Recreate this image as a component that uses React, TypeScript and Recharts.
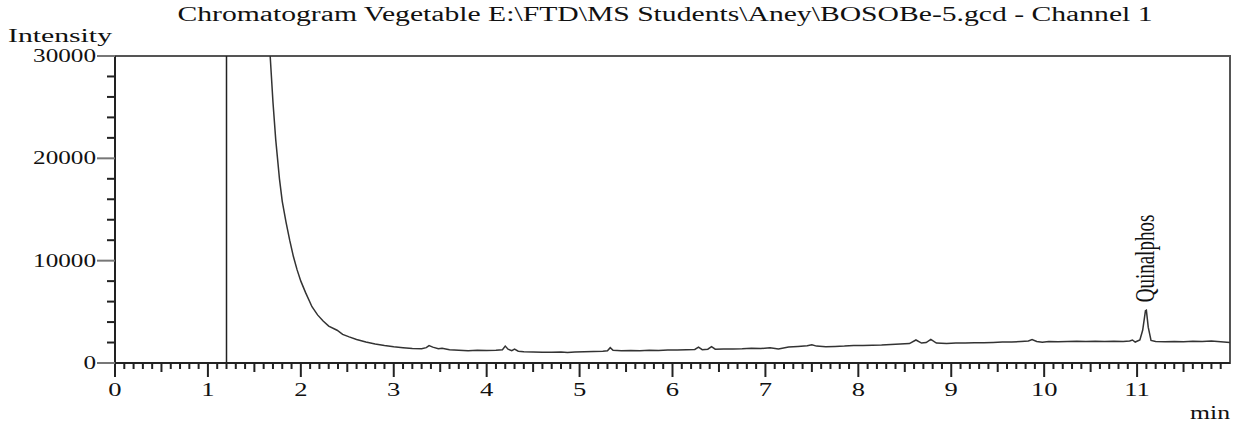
import {
  LineChart,
  Line,
  XAxis,
  YAxis,
  ReferenceLine,
  ReferenceArea,
  ReferenceDot,
} from 'recharts';

// retention time (min) and detector intensity
const TIMES = [
  1.6, 1.67, 1.7, 1.73, 1.77, 1.8, 1.84, 1.88, 1.92, 1.96, 2.0, 2.05, 2.12, 2.18,
  2.24, 2.3, 2.39, 2.45, 2.52, 2.6, 2.7, 2.8, 2.9, 3.0, 3.1, 3.2, 3.3, 3.35, 3.38,
  3.42, 3.48, 3.52, 3.6, 3.7, 3.8, 3.9, 4.0, 4.1, 4.17, 4.2, 4.23, 4.27, 4.3, 4.34,
  4.4, 4.5, 4.6, 4.7, 4.8, 4.87, 4.95, 5.05, 5.15, 5.25, 5.3, 5.33, 5.36, 5.45,
  5.55, 5.65, 5.75, 5.85, 5.95, 6.05, 6.15, 6.24, 6.28, 6.32, 6.38, 6.42, 6.46,
  6.55, 6.65, 6.75, 6.85, 6.95, 7.05, 7.14, 7.25, 7.35, 7.45, 7.5, 7.55, 7.65,
  7.75, 7.85, 7.95, 8.05, 8.15, 8.25, 8.35, 8.45, 8.55, 8.62, 8.68, 8.73, 8.78,
  8.84, 8.95, 9.05, 9.15, 9.25, 9.35, 9.45, 9.55, 9.65, 9.75, 9.83, 9.87, 9.92,
  9.98, 10.05, 10.15, 10.25, 10.35, 10.45, 10.55, 10.65, 10.75, 10.85, 10.92,
  10.95, 10.98, 11.03, 11.06, 11.09, 11.1, 11.12, 11.15, 11.2, 11.3, 11.4, 11.5,
  11.6, 11.7, 11.8, 11.9, 12.0,
];

const INTENSITY = [
  40000, 30000, 25500, 21800, 18000, 15800, 13800, 12000, 10400, 9100, 8000, 6900,
  5500, 4700, 4100, 3600, 3200, 2800, 2550, 2300, 2050, 1850, 1700, 1580, 1500,
  1420, 1400, 1500, 1700, 1550, 1400, 1450, 1300, 1250, 1200, 1250, 1220, 1250,
  1300, 1650, 1350, 1200, 1350, 1150, 1100, 1080, 1050, 1060, 1080, 1020, 1080,
  1100, 1120, 1150, 1200, 1500, 1250, 1200, 1230, 1200, 1250, 1230, 1270, 1280,
  1300, 1320, 1550, 1300, 1350, 1600, 1350, 1370, 1380, 1400, 1450, 1420, 1480,
  1380, 1560, 1620, 1680, 1780, 1650, 1600, 1620, 1650, 1720, 1700, 1730, 1750,
  1800, 1850, 1900, 2250, 1950, 2000, 2300, 1950, 1900, 1950, 1950, 1980, 1970,
  2000, 2050, 2050, 2100, 2150, 2300, 2100, 2020, 2100, 2080, 2100, 2120, 2100,
  2130, 2100, 2120, 2100, 2150, 2250, 2050, 2250, 3200, 5100, 5150, 3500, 2200,
  2100, 2080, 2100, 2080, 2120, 2100, 2150, 2080, 2000,
];

const Y_TICKS = [
  0, 2000, 4000, 6000, 8000, 10000, 12000, 14000, 16000, 18000, 20000, 22000,
  24000, 26000, 28000, 30000,
];
const Y_LABELS = [0, 10000, 20000, 30000];
const X_LABELS = [0, 1, 2, 3, 4, 5, 6, 7, 8, 9, 10, 11];

const SOLVENT_MARK = 1.2;
const PEAK = { name: 'Quinalphos', time: 11.1, value: 5150 };

const data = TIMES.map((t, i) => ({ t, v: INTENSITY[i] }));

// minor ticks every 0.1 min
const xTicks: number[] = [];
for (let i = 0; i < 120; i++) xTicks.push(i / 10);

const FONT = '"Liberation Serif", "DejaVu Serif", serif';
const INK = '#222';

const XTick = (props: any) => {
  const { x, y, payload } = props;
  const v = payload.value;
  const whole = Math.abs(v - Math.round(v)) < 1e-6;
  const half = Math.abs(v * 2 - Math.round(v * 2)) < 1e-6;
  const len = whole ? 14 : half ? 9 : 6;
  return (
    <g>
      <line x1={x} x2={x} y1={y} y2={y + len} stroke={INK} strokeWidth={2} />
      {whole && X_LABELS.includes(Math.round(v)) && (
        <text
          transform={`translate(${x},${y + 33}) scale(1.4,1)`}
          textAnchor="middle"
          fontFamily={FONT}
          fontSize={19}
          fill="#111"
        >
          {Math.round(v)}
        </text>
      )}
    </g>
  );
};

const YTick = (props: any) => {
  const { x, y, payload } = props;
  const labelled = Y_LABELS.includes(payload.value);
  return (
    <g>
      <line
        x1={x - (labelled ? 18 : 8)}
        x2={x}
        y1={y}
        y2={y}
        stroke={labelled ? '#777' : INK}
        strokeWidth={2}
      />
      {labelled && (
        <text
          transform={`translate(${x - 19},${y + 6}) scale(1.4,1)`}
          textAnchor="end"
          fontFamily={FONT}
          fontSize={18}
          fill="#111"
        >
          {payload.value}
        </text>
      )}
    </g>
  );
};

const PeakLabel = (props: any) => {
  const { viewBox } = props;
  const cx = viewBox.x + viewBox.width / 2;
  const cy = viewBox.y + viewBox.height / 2;
  return (
    <text
      transform={`translate(${cx + 8},${cy - 8}) scale(1.4,1) rotate(-90)`}
      textAnchor="start"
      fontFamily={FONT}
      fontSize={19}
      fill="#111"
    >
      {PEAK.name}
    </text>
  );
};

export default function App() {
  return (
    <div style={{ position: 'absolute', left: 0, top: 0, width: 1236, height: 423, background: '#fff' }}>
      <LineChart
        width={1236}
        height={423}
        data={data}
        margin={{ top: 56, right: 6, left: 0, bottom: 0 }}
      >
        <ReferenceArea
          x1={0}
          x2={12}
          y1={0}
          y2={30000}
          fill="none"
          stroke="#555"
          strokeWidth={2}
        />
        <XAxis
          type="number"
          dataKey="t"
          domain={[0, 12]}
          ticks={xTicks}
          interval={0}
          height={60}
          tickSize={0}
          tickMargin={0}
          tickLine={false}
          tick={<XTick />}
          axisLine={{ stroke: INK, strokeWidth: 2 }}
          allowDataOverflow
        />
        <YAxis
          type="number"
          domain={[0, 30000]}
          ticks={Y_TICKS}
          interval={0}
          width={115}
          tickSize={0}
          tickMargin={0}
          tickLine={false}
          tick={<YTick />}
          axisLine={{ stroke: INK, strokeWidth: 2 }}
          allowDataOverflow
        />
        <ReferenceLine x={SOLVENT_MARK} stroke={INK} strokeWidth={1.5} />
        <Line
          type="linear"
          dataKey="v"
          stroke="#333"
          strokeWidth={1.5}
          dot={false}
          isAnimationActive={false}
        />
        <ReferenceDot
          x={PEAK.time}
          y={PEAK.value}
          r={0}
          fill="none"
          stroke="none"
          label={<PeakLabel />}
        />
      </LineChart>
      <svg
        width={1236}
        height={423}
        style={{ position: 'absolute', left: 0, top: 0, pointerEvents: 'none' }}
      >
        <text
          x={665}
          y={21}
          textAnchor="middle"
          fontFamily={FONT}
          fontSize={20}
          textLength={975}
          lengthAdjust="spacingAndGlyphs"
          fill="#111"
        >
          {'Chromatogram Vegetable E:\\FTD\\MS Students\\Aney\\BOSOBe-5.gcd - Channel 1'}
        </text>
        <text
          x={8}
          y={42}
          fontFamily={FONT}
          fontSize={19}
          textLength={104}
          lengthAdjust="spacingAndGlyphs"
          fill="#111"
        >
          Intensity
        </text>
        <text
          x={1190}
          y={419}
          fontFamily={FONT}
          fontSize={19}
          textLength={40}
          lengthAdjust="spacingAndGlyphs"
          fill="#111"
        >
          min
        </text>
      </svg>
    </div>
  );
}
